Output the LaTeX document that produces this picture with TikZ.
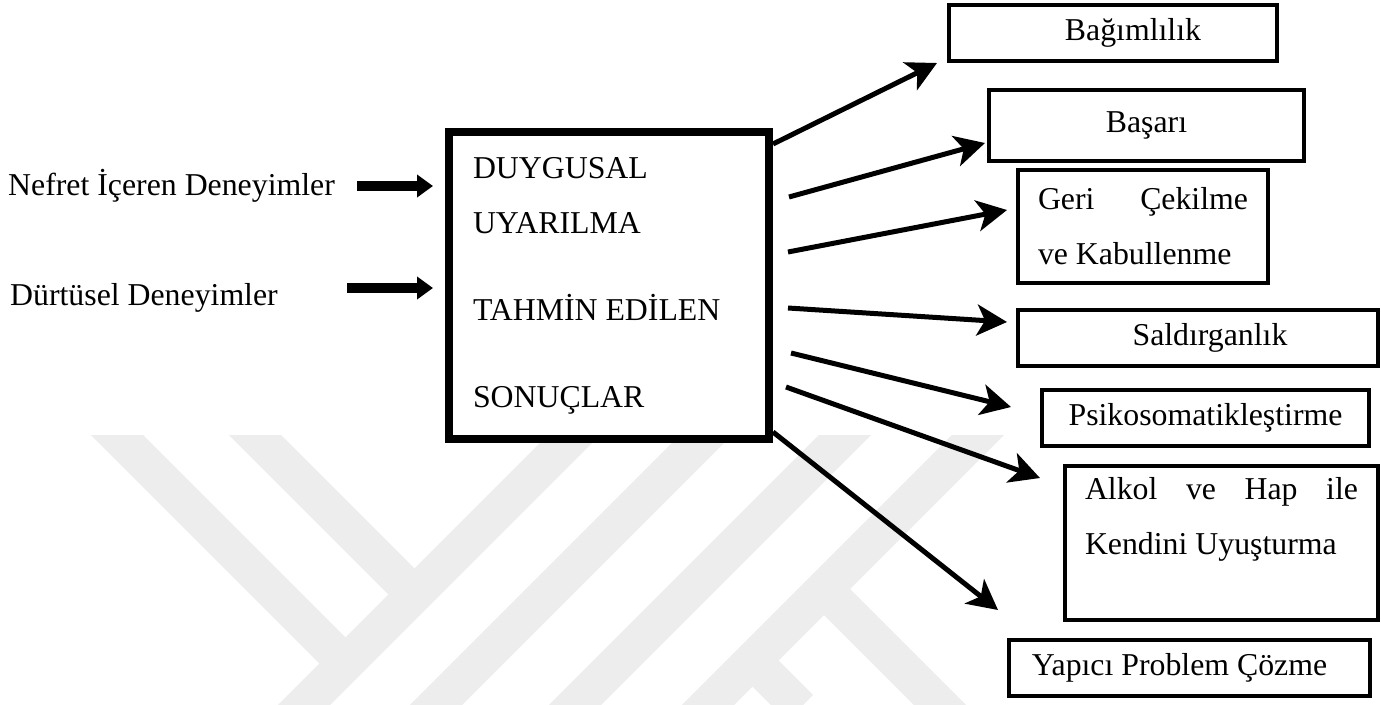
\documentclass[tikz,border=0pt]{standalone}
\usepackage{fontspec}
\setmainfont{Liberation Serif}
\usetikzlibrary{arrows.meta,calc}
\tikzstyle{every node}=[font=\rmfamily\fontsize{31.8}{55}\selectfont]
\tikzstyle{metin}=[inner sep=0pt, anchor=base west]
\tikzstyle{merkez}=[draw, fill=white, line width=8pt, text width=272pt,
  align=justify, minimum width=320pt, minimum height=307pt, inner sep=0pt]
\tikzstyle{sonuc}=[draw, fill=white, line width=4pt, inner sep=0pt, align=center]
\tikzstyle{ok}=[line width=5pt, -{Stealth[length=30pt,width=31pt,inset=8pt]}]
\tikzstyle{kalinok}=[line width=10pt, -{Triangle[length=16pt,width=22pt]}]
\tikzstyle{filigran}=[line width=37pt, color=black!7]
\newcommand{\sonuc}[5]{node (s#1) [sonuc, minimum width=#2pt,
  minimum height=#3pt, #4] {#5}}

\begin{document}
\begin{tikzpicture}[x=1pt,y=-1pt]
  \useasboundingbox (0,0) rectangle (1381,704);

  % Faint watermark in the background
  \begin{scope}
    \clip (0,435) rectangle (1381,704);
    \foreach \xb in {305,437,576,709}
      \draw[filigran] (\xb-20,724) -- (\xb+289,415);
    \draw[filigran] (97,415) -- (345.5,663.5);
    \draw[filigran] (235,415) -- (414.5,594.5);
    \draw[filigran] (824,589) -- (960,725);
    \draw[filigran] (752.5,660.5) -- (800,708);
  \end{scope}

  % Left side experiences
  \node[metin] (d1) at (8,195) {Nefret İçeren Deneyimler};
  \node[metin] (d2) at (10,305) {Dürtüsel Deneyimler};

  % Central box
  \node[merkez] (emo) at (609,285.5)
    {DUYGUSAL\\UYARILMA\\[32pt]TAHMİN EDİLEN\\[32pt]SONUÇLAR};

  % Outcome boxes
  \path (1113,33) \sonuc{1}{328}{56}{}{\hspace*{40pt}Bağımlılık};
  \path (1146.5,125.5) \sonuc{2}{315}{71}{}{Başarı};
  \path (1143,226.5) \sonuc{3}{250}{113}{text width=210pt, align=justify}
    {Geri\hfill Çekilme\\ve Kabullenme};
  \path (1198,338) \sonuc{4}{360}{56}{}{\hspace*{24pt}Saldırganlık};
  \path (1205.5,418) \sonuc{5}{327}{56}{}{Psikosomatikleştirme};
  \path (1221.5,543) \sonuc{6}{313}{154}{text width=273pt, align=justify}
    {Alkol\hfill ve\hfill Hap\hfill ile\\Kendini Uyuşturma\\\mbox{}};
  \path (1189.5,668) \sonuc{7}{361}{56}{}{Yapıcı Problem Çözme\hspace*{20pt}};

  % Input arrows
  \coordinate (g1) at (357,186);
  \coordinate (g2) at (347,288);
  \draw[kalinok] (g1) -- ($(g1 -| emo.west)+(-12pt,0)$);
  \draw[kalinok] (g2) -- ($(g2 -| emo.west)+(-12pt,0)$);

  % Output arrows
  \coordinate (u2) at (789,197);
  \coordinate (u3) at (788,252);
  \coordinate (u4) at (788,308);
  \coordinate (u5) at (791,353);
  \coordinate (u6) at (786,387);
  \draw[ok] ([yshift=-16pt]emo.north east) -- ([xshift=-10pt]s1.south west);
  \draw[ok] (u2) -- ([xshift=-2pt,yshift=-17.5pt]s2.west);
  \draw[ok] (u3) -- ([xshift=-9pt,yshift=16.5pt]s3.west);
  \draw[ok] (u4) -- ([xshift=-9pt,yshift=16pt]s4.west);
  \draw[ok] (u5) -- ([xshift=-29pt,yshift=11pt]s5.west);
  \draw[ok] (u6) -- ([xshift=-23pt,yshift=-14pt]s6.north west);
  \draw[ok] ([yshift=11pt]emo.south east) -- ([xshift=-9pt,yshift=28pt]s7.north west);
\end{tikzpicture}
\end{document}
